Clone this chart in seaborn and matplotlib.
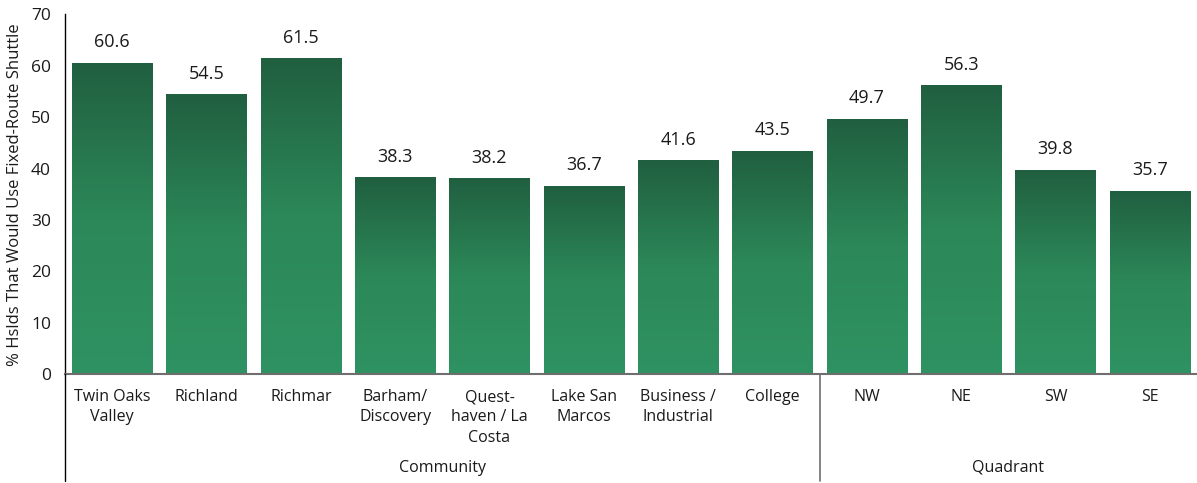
import numpy as np
import pandas as pd
import matplotlib
matplotlib.use("Agg")
import matplotlib.pyplot as plt
from matplotlib.colors import LinearSegmentedColormap
import seaborn as sns

categories = ["Twin Oaks\nValley", "Richland", "Richmar", "Barham/\nDiscovery",
              "Quest-\nhaven / La\nCosta", "Lake San\nMarcos", "Business /\nIndustrial",
              "College", "NW", "NE", "SW", "SE"]
values = [60.6, 54.5, 61.5, 38.3, 38.2, 36.7, 41.6, 43.5, 49.7, 56.3, 39.8, 35.7]
groups = ["Community"] * 8 + ["Quadrant"] * 4
y_ticks = [0, 10, 20, 30, 40, 50, 60, 70]
y_label = "% Hslds That Would Use Fixed-Route Shuttle"

sns.set_theme(style="white")
plt.rcParams["font.family"] = ["Open Sans", "DejaVu Sans"]

df = pd.DataFrame({"category": categories, "value": values, "group": groups})

fig = plt.figure(figsize=(11.97, 4.83), dpi=100)
ax = fig.add_axes([0.0543, 0.2257, 0.9457, 0.7443])

sns.barplot(data=df, x="category", y="value", color="#2a7a52", width=0.85,
            saturation=1, ax=ax, errorbar=None)

# vertical gradient fill for each bar, dark at the top, lighter at the base
cmap = LinearSegmentedColormap.from_list("grn", ["#2f9262", "#2c8858", "#205f40"])
grad = np.linspace(0, 1, 256).reshape(-1, 1)
for patch in list(ax.patches):
    x0, y0 = patch.get_x(), patch.get_y()
    w, h = patch.get_width(), patch.get_height()
    img = ax.imshow(grad, cmap=cmap, aspect="auto", origin="lower",
                    extent=[x0, x0 + w, y0, y0 + h], zorder=2, interpolation="bilinear")
    img.set_clip_path(patch)
    patch.set_facecolor("none")
    patch.set_edgecolor("none")

for i, v in enumerate(values):
    ax.text(i, v + 2.2, f"{v:.1f}", ha="center", va="bottom", fontsize=13, color="#1a1a1a")

ax.set_xlim(-0.5, len(categories) - 0.5)
ax.set_ylim(0, 70)
ax.set_yticks(y_ticks)
ax.set_yticklabels([str(t) for t in y_ticks], fontsize=12.5, color="#1a1a1a")
ax.tick_params(axis="y", length=0, pad=10)
ax.tick_params(axis="x", length=0, pad=11, labelsize=11.5, labelcolor="#1a1a1a")
for lbl in ax.get_xticklabels():
    lbl.set_linespacing(1.35)
ax.set_xlabel("")
ax.set_ylabel(y_label, fontsize=12, color="#1a1a1a", labelpad=6)

for s in ["top", "right"]:
    ax.spines[s].set_visible(False)
ax.spines["left"].set_color("#000000")
ax.spines["left"].set_linewidth(1.0)
ax.spines["bottom"].set_color("#6e6e6e")
ax.spines["bottom"].set_linewidth(1.5)

# group separators below the axis
ax_l, ax_b = 65 / 1197, 0.2257
fig.add_artist(plt.Line2D([ax_l, ax_l], [ax_b, 0.004], color="#000000", lw=1.0))
sep_x = ax_l + 0.9457 * (8 / 12)
fig.add_artist(plt.Line2D([sep_x, sep_x], [ax_b, 0.004], color="#6e6e6e", lw=1.2))

fig.text((ax_l + sep_x) / 2, 1 - 468 / 483, "Community", ha="center", va="center",
         fontsize=11.5, color="#1a1a1a")
fig.text((sep_x + 1.0) / 2, 1 - 468 / 483, "Quadrant", ha="center", va="center",
         fontsize=11.5, color="#1a1a1a")

fig.savefig("out.png", dpi=100)
